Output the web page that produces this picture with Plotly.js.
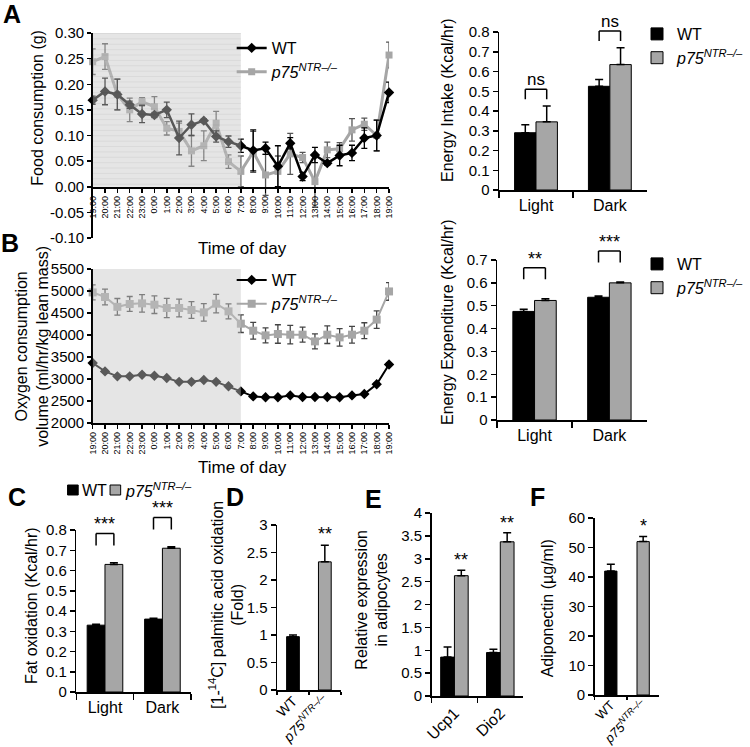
<!DOCTYPE html>
<html><head><meta charset="utf-8">
<script src="https://cdn.plot.ly/plotly-3.0.1.min.js"></script>
<style>html,body{margin:0;padding:0;background:#fff}#chart{width:750px;height:747px}</style>
</head><body><div id="chart"></div>
<script>
// ---------- DATA ----------
const hours = ['19:00','20:00','21:00','22:00','23:00','0:00','1:00','2:00','3:00','4:00','5:00','6:00','7:00','8:00','9:00','10:00','11:00','12:00','13:00','14:00','15:00','16:00','17:00','18:00','19:00'];
const foodWT    = [0.169,0.186,0.180,0.160,0.142,0.140,0.150,0.095,0.121,0.129,0.098,0.088,0.080,0.071,0.075,0.040,0.085,0.020,0.062,0.046,0.061,0.066,0.095,0.100,0.184];
const foodWTErr = [0.008,0.026,0.030,0.007,0.017,0.005,0.015,0.033,0.021,0.004,0.011,0.011,0.013,0.040,0.012,0.040,0.011,0.008,0.015,0.004,0.020,0.015,0.020,0.030,0.020];
const foodKO    = [0.244,0.254,0.180,0.150,0.166,0.156,0.114,0.108,0.070,0.080,0.124,0.049,0.030,0.068,0.023,0.030,0.064,0.057,0.010,0.072,0.074,0.111,0.122,0.100,0.257];
const foodKOErr = [0.025,0.025,0.030,0.023,0.008,0.020,0.013,0.016,0.030,0.029,0.023,0.013,0.030,0.040,0.040,0.030,0.040,0.010,0.050,0.015,0.012,0.022,0.012,0.030,0.025];

const o2WT    = [3364,3173,3060,3060,3098,3075,3023,2935,2935,2977,2935,2835,2718,2605,2585,2585,2627,2590,2590,2590,2585,2627,2660,2880,3330];
const o2WTErr = [30,25,20,20,30,25,20,20,20,20,20,20,25,20,15,15,20,15,15,15,15,20,20,30,40];
const o2KO    = [4968,4864,4640,4705,4719,4689,4614,4614,4568,4514,4712,4537,4257,4098,3991,4023,4007,4007,3855,4007,3946,4007,4098,4350,4990];
const o2KOErr = [170,180,190,170,200,200,220,200,190,200,210,170,200,190,170,210,210,170,170,200,200,190,180,200,200];

const periods   = ['Light','Dark'];
const intakeWT  = [0.29,0.525];  const intakeWTErr = [0.04,0.035];
const intakeKO  = [0.345,0.635]; const intakeKOErr = [0.08,0.085];
const intakeSig = ['ns','ns'];

const eeWT  = [0.475,0.537]; const eeWTErr = [0.010,0.006];
const eeKO  = [0.523,0.600]; const eeKOErr = [0.008,0.004];
const eeSig = ['**','***'];

const fatWT  = [0.33,0.36]; const fatWTErr = [0.004,0.004];
const fatKO  = [0.63,0.71]; const fatKOErr = [0.008,0.007];
const fatSig = ['***','***'];

const KO = '<i>p75</i><sup><i>NTR–/–</i></sup>';
const genotypes = ['WT', KO];
const palmVals = [0.97,2.33]; const palmErr = [0.03,0.30]; const palmSig = ['','**'];

const genes   = ['Ucp1','Dio2'];
const geneWT  = [0.85,0.95]; const geneWTErr = [0.22,0.07];
const geneKO  = [2.63,3.37]; const geneKOErr = [0.12,0.20];
const geneSig = ['**','**'];

const adipoVals = [42,52]; const adipoErr = [2.3,1.7]; const adipoSig = ['','*'];

// ---------- HELPERS ----------
const W = 750, H = 747;
const X = p => p / W, Y = p => 1 - p / H;
const FONT = 'Arial, "Liberation Sans", sans-serif';
const GRAY = '#a6a6a6';
const idx = hours.map((h, i) => i);

const traces = [];
const shapes = [];
const annotations = [];

function lineTrace(y, err, name, color, symbol, size, width, errColor, xa, ya, lg, rank) {
  return {
    x: idx, y: y, name: name, xaxis: xa, yaxis: ya, legend: lg, legendrank: rank,
    type: 'scatter', mode: 'lines+markers', cliponaxis: false,
    line: {color: color, width: width},
    marker: {color: color, symbol: symbol, size: size},
    error_y: {type: 'data', array: err, color: errColor, thickness: 1.3, width: 3}
  };
}
function barTrace(x, y, err, name, color, w, off, xa, ya, lg, show) {
  return {
    type: 'bar', x: x, y: y, name: name, xaxis: xa, yaxis: ya, legend: lg,
    showlegend: show, width: w, offset: off, cliponaxis: false,
    marker: {color: color, line: {color: '#000', width: 1}},
    error_y: {type: 'data', symmetric: false, array: err, arrayminus: y.map(() => 0), color: '#000', thickness: 1.5, width: 4}
  };
}

// ---------- Axes ----------
const baseAx = {showline: true, linecolor: '#000', linewidth: 1.5, ticks: 'outside', ticklen: 5,
  tickcolor: '#000', tickwidth: 1.5, showgrid: false, zeroline: false, fixedrange: true};
function ax(o) { return Object.assign({}, baseAx, o); }

const foodTicks = [-0.10, -0.05, 0, 0.05, 0.10, 0.15, 0.20, 0.25, 0.30];
const foodText = foodTicks.map(v => (v < 0 ? '-' : '') + Math.abs(v).toFixed(2));

const AX = {
  xaxis: ax({domain: [X(96), X(403)], range: [0, 24], anchor: 'free', position: Y(187),
    tickmode: 'array', tickvals: idx, ticktext: hours, tickangle: -90, tickfont: {size: 9}, ticklen: 4}),
  yaxis: ax({domain: [Y(238), Y(33)], range: [-0.10, 0.30], anchor: 'x', tickmode: 'array',
    tickvals: foodTicks, ticktext: foodText, tickfont: {size: 15}, ticklen: 4}),
  xaxis3: ax({domain: [X(96), X(403)], range: [0, 24], anchor: 'y3',
    tickmode: 'array', tickvals: idx, ticktext: hours, tickangle: -90, tickfont: {size: 9}, ticklen: 4}),
  yaxis3: ax({domain: [Y(423), Y(269)], range: [2000, 5500], dtick: 500, anchor: 'x3', tickfont: {size: 15}, ticklen: 4}),
  xaxis2: ax({domain: [X(517), X(670)], anchor: 'y2', tickson: 'boundaries', ticklen: 6, tickfont: {size: 16}}),
  yaxis2: ax({domain: [Y(190), Y(32)], range: [0, 0.8], dtick: 0.1, anchor: 'x2'}),
  xaxis4: ax({domain: [X(515), X(670)], anchor: 'y4', tickson: 'boundaries', ticklen: 6, tickfont: {size: 16}}),
  yaxis4: ax({domain: [Y(420), Y(260)], range: [0, 0.7], dtick: 0.1, anchor: 'x4'}),
  xaxis5: ax({domain: [X(79), X(198)], anchor: 'y5', tickson: 'boundaries', ticklen: 6, tickfont: {size: 16}}),
  yaxis5: ax({domain: [Y(692), Y(530)], range: [0, 0.8], dtick: 0.1, anchor: 'x5'}),
  xaxis6: ax({domain: [X(287), X(353)], anchor: 'y6', tickson: 'boundaries', ticklen: 3, tickangle: -45,
    tickfont: {size: 14}, ticklabelstandoff: -4}),
  yaxis6: ax({domain: [Y(690), Y(525)], range: [0, 3], dtick: 0.5, anchor: 'x6'}),
  xaxis7: ax({domain: [X(447), X(542)], anchor: 'y7', tickson: 'boundaries', ticklen: 5, tickangle: -45, tickfont: {size: 16}}),
  yaxis7: ax({domain: [Y(696), Y(513)], range: [0, 4], dtick: 0.5, anchor: 'x7'}),
  xaxis8: ax({domain: [X(616), X(683)], anchor: 'y8', tickson: 'boundaries', ticklen: 3, tickangle: -45,
    tickfont: {size: 13}, ticklabelstandoff: -4}),
  yaxis8: ax({domain: [Y(695), Y(518)], range: [0, 60], dtick: 10, anchor: 'x8'})
};
// value -> paper y using the axis' own domain and range (for marks above the plot area)
function yp(ya, v) {
  const a = AX['yaxis' + ya.slice(1)];
  return a.domain[0] + (v - a.range[0]) / (a.range[1] - a.range[0]) * (a.domain[1] - a.domain[0]);
}
function bracket(xa, ya, i, yb, yt, d) {
  const L = i - d, R = i + d, st = {color: '#000', width: 1.5};
  const b = yp(ya, yb), t = yp(ya, yt);
  shapes.push({type: 'line', xref: xa, yref: 'paper', x0: L, x1: L, y0: b, y1: t, line: st});
  shapes.push({type: 'line', xref: xa, yref: 'paper', x0: L, x1: R, y0: t, y1: t, line: st});
  shapes.push({type: 'line', xref: xa, yref: 'paper', x0: R, x1: R, y0: t, y1: b, line: st});
}
function sig(xa, ya, i, y, txt) {
  if (!txt) return;
  annotations.push({xref: xa, yref: 'paper', x: i, y: yp(ya, y), text: txt, showarrow: false,
    xanchor: 'center', yanchor: 'middle', font: {size: txt === 'ns' ? 17 : 18}});
}
function label(px, py, txt, opts) {
  annotations.push(Object.assign({xref: 'paper', yref: 'paper', x: X(px), y: Y(py), text: txt,
    showarrow: false, xanchor: 'center', yanchor: 'middle', font: {size: 16}}, opts || {}));
}

// ---------- PANEL A / B (lines) ----------
traces.push(lineTrace(foodKO, foodKOErr, KO, GRAY, 'square', 7, 3, '#555', 'x', 'y', 'legend', 2));
traces.push(lineTrace(foodWT, foodWTErr, 'WT', '#000', 'diamond', 8, 2.5, '#000', 'x', 'y', 'legend', 1));
traces.push(lineTrace(o2KO, o2KOErr, KO, GRAY, 'square', 8, 2, '#444', 'x3', 'y3', 'legend3', 2));
traces.push(lineTrace(o2WT, o2WTErr, 'WT', '#000', 'diamond', 8, 2, '#000', 'x3', 'y3', 'legend3', 1));

// dark-period shading
shapes.push({type: 'rect', xref: 'x', yref: 'y', x0: 0, x1: 12, y0: 0, y1: 0.30,
  fillcolor: 'rgb(198,198,198)', opacity: 0.45, line: {width: 0}, layer: 'above'});
for (let v = 0.005; v < 0.30; v += 0.0105) {
  shapes.push({type: 'line', xref: 'x', yref: 'y', x0: 0, x1: 12, y0: v, y1: v,
    line: {color: 'rgba(0,0,0,0.05)', width: 1}, layer: 'above'});
}
shapes.push({type: 'rect', xref: 'x3', yref: 'y3', x0: 0, x1: 12, y0: 2000, y1: 5500,
  fillcolor: 'rgb(198,198,198)', opacity: 0.45, line: {width: 0}, layer: 'above'});

// ---------- Bar panels ----------
traces.push(barTrace(periods, intakeWT, intakeWTErr, 'WT', '#000', 0.29, -0.29, 'x2', 'y2', 'legend2', true));
traces.push(barTrace(periods, intakeKO, intakeKOErr, KO, GRAY, 0.29, 0, 'x2', 'y2', 'legend2', true));
traces.push(barTrace(periods, eeWT, eeWTErr, 'WT', '#000', 0.29, -0.29, 'x4', 'y4', 'legend4', true));
traces.push(barTrace(periods, eeKO, eeKOErr, KO, GRAY, 0.29, 0, 'x4', 'y4', 'legend4', true));
traces.push(barTrace(periods, fatWT, fatWTErr, 'WT', '#000', 0.31, -0.31, 'x5', 'y5', 'legend', false));
traces.push(barTrace(periods, fatKO, fatKOErr, KO, GRAY, 0.31, 0, 'x5', 'y5', 'legend', false));
traces.push(barTrace(genotypes, palmVals, palmErr, 'palm', ['#000', GRAY], 0.4, -0.2, 'x6', 'y6', 'legend', false));
traces.push(barTrace(genes, geneWT, geneWTErr, 'WT', '#000', 0.30, -0.30, 'x7', 'y7', 'legend', false));
traces.push(barTrace(genes, geneKO, geneKOErr, KO, GRAY, 0.30, 0, 'x7', 'y7', 'legend', false));
traces.push(barTrace(genotypes, adipoVals, adipoErr, 'adipo', ['#000', GRAY], 0.38, -0.19, 'x8', 'y8', 'legend', false));

// brackets & significance marks
periods.forEach((p, i) => {
  let top = Math.max(intakeWT[i] + intakeWTErr[i], intakeKO[i] + intakeKOErr[i]);
  let yb = top + 0.035, yt = yb + 0.05;
  bracket('x2', 'y2', i, yb, yt, 0.145); sig('x2', 'y2', i, yt + 0.05, intakeSig[i]);
  top = Math.max(eeWT[i] + eeWTErr[i], eeKO[i] + eeKOErr[i]);
  yb = top + 0.085; yt = yb + 0.05;
  bracket('x4', 'y4', i, yb, yt, 0.145); sig('x4', 'y4', i, yt + 0.04, eeSig[i]);
  top = Math.max(fatWT[i] + fatWTErr[i], fatKO[i] + fatKOErr[i]);
  yb = top + 0.085; yt = yb + 0.06;
  bracket('x5', 'y5', i, yb, yt, 0.155); sig('x5', 'y5', i, yt + 0.045, fatSig[i]);
  sig('x7', 'y7', i + 0.15, geneKO[i] + geneKOErr[i] + 0.22, geneSig[i]);
});
genotypes.forEach((g, i) => {
  sig('x6', 'y6', i, palmVals[i] + palmErr[i] + 0.2, palmSig[i]);
  sig('x8', 'y8', i, adipoVals[i] + adipoErr[i] + 3.5, adipoSig[i]);
});

// compact key for panel C (squares + names)
const keyC = [{name: 'WT', color: '#000', x: 70}, {name: KO, color: GRAY, x: 114}];
keyC.forEach(k => {
  shapes.push({type: 'rect', xref: 'paper', yref: 'paper', x0: X(k.x), x1: X(k.x + 11), y0: Y(495), y1: Y(485),
    fillcolor: k.color, line: {color: '#000', width: 1}});
  annotations.push({xref: 'paper', yref: 'paper', x: X(k.x + 13), y: Y(490), text: k.name, showarrow: false,
    xanchor: 'left', yanchor: 'middle', font: {size: 16}});
});

const layout = Object.assign({
  width: W, height: H, margin: {l: 0, r: 0, t: 0, b: 0},
  paper_bgcolor: '#fff', plot_bgcolor: 'rgba(0,0,0,0)',
  font: {family: FONT, color: '#000', size: 15},
  showlegend: true,
  legend:  {x: X(240), y: Y(31), xanchor: 'left', yanchor: 'top', bgcolor: 'rgba(0,0,0,0)', font: {size: 16}, tracegroupgap: 0},
  legend3: {x: X(240), y: Y(263), xanchor: 'left', yanchor: 'top', bgcolor: 'rgba(0,0,0,0)', font: {size: 16}, tracegroupgap: 0},
  legend2: {x: X(660), y: Y(17), xanchor: 'left', yanchor: 'top', bgcolor: 'rgba(0,0,0,0)', font: {size: 16}, tracegroupgap: 0},
  legend4: {x: X(660), y: Y(247), xanchor: 'left', yanchor: 'top', bgcolor: 'rgba(0,0,0,0)', font: {size: 16}, tracegroupgap: 0},
  shapes: shapes,
  annotations: annotations
}, AX);

// titles & panel letters
label(251, 249, 'Time of day', {font: {size: 17}});
label(251, 467, 'Time of day', {font: {size: 17}});
label(38, 108, 'Food consumption (g)', {textangle: -90});
label(33, 346, 'Oxygen consumption<br>volume (ml/hr/kg lean mass)', {textangle: -90});
label(463, 100, 'Energy Intake (Kcal/hr)', {textangle: -90});
label(463, 322, 'Energy Expenditure (Kcal/hr)', {textangle: -90});
label(32, 605, 'Fat oxidation (Kcal/hr)', {textangle: -90});
label(234, 605, '[1-<sup>14</sup>C] palmitic acid oxidation<br>(Fold)', {textangle: -90});
label(385, 600, 'Relative expression<br>in adipocytes', {textangle: -90});
label(567, 608, 'Adiponectin (µg/ml)', {textangle: -90});
const letter = {size: 25, family: 'Arial Black, Arial, "Liberation Sans", sans-serif'};
label(12, 14, '<b>A</b>', {font: letter});
label(10, 243, '<b>B</b>', {font: letter});
label(18, 497, '<b>C</b>', {font: letter});
label(243, 497, '<b>D</b>', {font: letter});
label(387, 499, '<b>E</b>', {font: letter});
label(557, 497, '<b>F</b>', {font: letter});

Plotly.newPlot('chart', traces, layout, {displayModeBar: false, staticPlot: true});
</script></body></html>
